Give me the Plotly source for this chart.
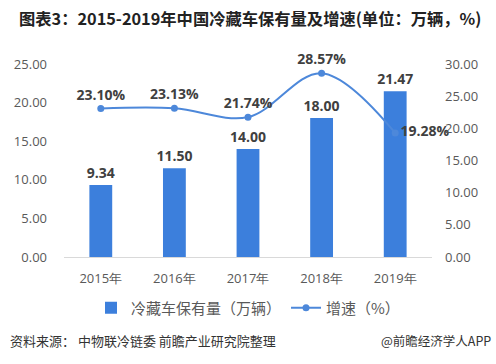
import plotly.graph_objects as go

years = ["2015年", "2016年", "2017年", "2018年", "2019年"]
stock = [9.34, 11.50, 14.00, 18.00, 21.47]
growth = [23.10, 23.13, 21.74, 28.57, 19.28]
stock_labels = ["9.34", "11.50", "14.00", "18.00", "21.47"]
growth_labels = ["23.10%", "23.13%", "21.74%", "28.57%", "19.28%"]
left_ticks = [0, 5, 10, 15, 20, 25]
right_ticks = [0, 5, 10, 15, 20, 25, 30]

W, H = 496, 364
L, R, T, B = 64, 64, 64, 107
ph = H - T - B
pw = W - L - R

def px(x):
    return (x - L) / pw

def py(y):
    return (H - B - y) / ph

FONT = "Noto Sans CJK SC"
NUMF = "Open Sans"
fig = go.Figure()
fig.add_trace(go.Bar(
    x=years, y=stock, name="冷藏车保有量（万辆）",
    marker=dict(color="#3C7FDC", line=dict(width=0)),
    width=0.31,
    text=stock_labels, textposition="outside", constraintext="none", textangle=0,
    textfont=dict(family=NUMF, size=14, color="#404040", weight="bold"),
    cliponaxis=False,
))
fig.add_trace(go.Scatter(
    x=years, y=growth, name="增速（%）", yaxis="y2",
    mode="lines+markers+text",
    line=dict(color="#4D88DA", width=2, shape="spline", smoothing=1.0),
    marker=dict(size=7, color="#4D88DA"),
    text=growth_labels,
    textposition=["top center", "top center", "top center", "top center", "middle right"],
    textfont=dict(family=NUMF, size=14, color="#404040", weight="bold"),
    cliponaxis=False,
))

fig.update_layout(
    width=W, height=H,
    margin=dict(l=L, r=R, t=T, b=B, autoexpand=False),
    paper_bgcolor="white", plot_bgcolor="white",
    font=dict(family=FONT, color="#595959", size=13),
    showlegend=True,
    legend=dict(orientation="h", x=0.5, xanchor="center", y=py(308), yanchor="middle",
                font=dict(family=FONT, size=15, color="#595959"), itemwidth=30),
    xaxis=dict(showgrid=False, showline=True, linecolor="#D9D9D9", ticks="",
               tickfont=dict(family=NUMF, size=13, color="#595959"),
               ticklabelstandoff=9, automargin=False),
    yaxis=dict(range=[0, 25], tickvals=left_ticks, tickformat=".2f", showgrid=False,
               zeroline=False, showline=False, automargin=False,
               tickfont=dict(family=NUMF, size=13, color="#595959"), ticklabelstandoff=16),
    yaxis2=dict(range=[0, 30], tickvals=right_ticks, overlaying="y", side="right",
                ticksuffix="%", tickformat=".2f", showgrid=False, zeroline=False, automargin=False,
                tickfont=dict(family=NUMF, size=13, color="#595959"), ticklabelstandoff=12),
)

fig.add_annotation(text="<b>图表3：2015-2019年中国冷藏车保有量及增速(单位：万辆，%)</b>",
                   xref="paper", yref="paper", x=px(17), y=py(18), xanchor="left", yanchor="middle",
                   showarrow=False, font=dict(family=FONT, size=16.3, color="#222222"))
fig.add_annotation(text="资料来源： 中物联冷链委 前瞻产业研究院整理",
                   xref="paper", yref="paper", x=px(8), y=py(340), xanchor="left", yanchor="middle",
                   showarrow=False, font=dict(family=FONT, size=13, color="#333333"))
fig.add_annotation(text="@前瞻经济学人APP",
                   xref="paper", yref="paper", x=px(493), y=py(340), xanchor="right", yanchor="middle",
                   showarrow=False, font=dict(family=FONT, size=12.5, color="#333333"))

fig.write_html("out.html", config={"displayModeBar": False},
               post_script="document.body.style.margin='0';document.body.style.overflow='hidden';")
